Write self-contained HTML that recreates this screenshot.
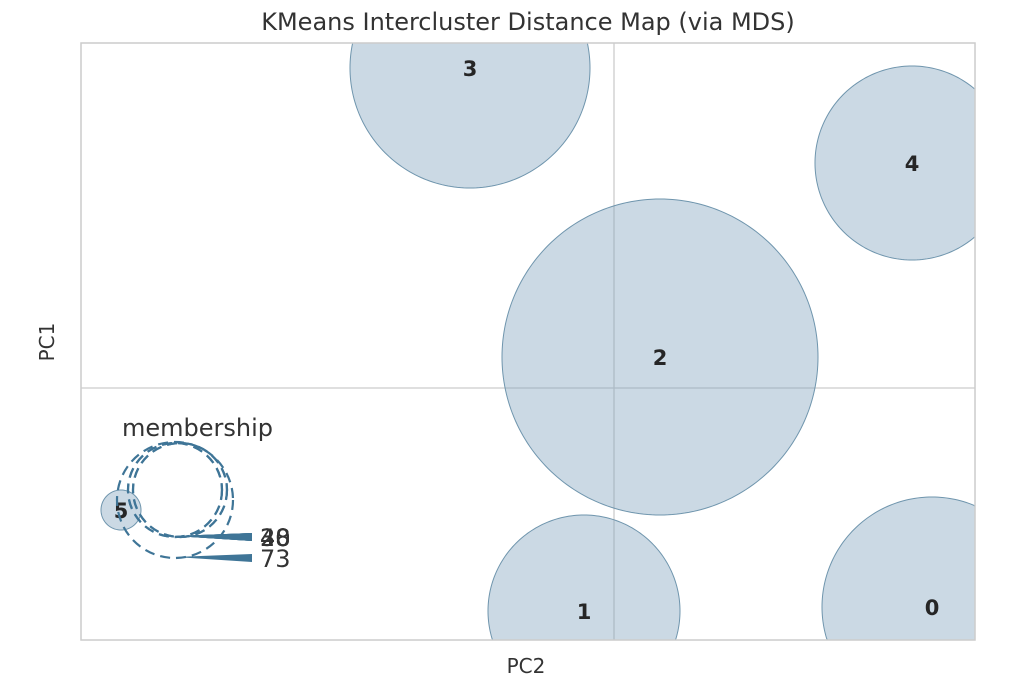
<!DOCTYPE html>
<html><head><meta charset="utf-8"><style>
html,body{margin:0;padding:0;background:#fff;overflow:hidden;width:1030px;height:678px}
svg{display:block}
</style></head><body>
<svg id="c" width="1030" height="678" xmlns="http://www.w3.org/2000/svg" font-family="DejaVu Sans, Liberation Sans, sans-serif"></svg>
<script>
const clusterIds=["0","1","2","3","4","5"];
const cx=[3.18,-0.30,0.46,-1.44,2.98,-4.93];
const cy=[-2.19,-2.23,0.31,3.20,2.25,-1.22];
const cr=[1.10,0.96,1.58,1.20,0.97,0.20];
const legendLabels=["28","30","40","48","73"];
const legendRadii=[47,47,47,47,58];
const legendDx=[0,5,0,5,0];
const NS="http://www.w3.org/2000/svg";
const svg=document.getElementById('c');
const L=81,R=975,T=43,B=640;
const X=v=>614+v*100, Y=v=>388-v*100, S=v=>v*100;
function el(t,a,p){const e=document.createElementNS(NS,t);for(const k in a)e.setAttribute(k,a[k]);(p||svg).appendChild(e);return e;}
const clamp=(v,a,b)=>Math.max(a,Math.min(b,v));
function clippedCircle(x0,y0,r){
 let d='';const n=240;
 for(let k=0;k<n;k++){const a=2*Math.PI*k/n;
  const px=clamp(x0+r*Math.cos(a),L,R), py=clamp(y0+r*Math.sin(a),T,B);
  d+=(k?'L':'M')+px.toFixed(2)+','+py.toFixed(2);}
 return d+'Z';
}
const bg=el('rect',{x:L,y:T,width:R-L,height:B-T,fill:'#fff'});

const g=el('g',{});
const vl=el('line',{x1:X(0),x2:X(0),y1:T,y2:B,stroke:'#ccc','stroke-width':1.3},g);

const hl=el('line',{x1:L,x2:R,y1:Y(0),y2:Y(0),stroke:'#ccc','stroke-width':1.3},g);

for(let i=0;i<clusterIds.length;i++){
 const c=el('path',{d:clippedCircle(X(cx[i]),Y(cy[i]),S(cr[i])),fill:'rgba(130,165,190,0.42)',stroke:'#6f95ad','stroke-width':1},g);
 
 const t=el('text',{x:X(cx[i]),y:Y(cy[i])+8,'text-anchor':'middle','font-size':21,'font-weight':'bold',fill:'#262626'},g);
 t.textContent=clusterIds[i];
}
const lg=el('g',{});
const lt=el('text',{x:122,y:436,'font-size':24,fill:'#333'},lg);lt.textContent='membership';

const lcx=175,lbottom0=537;
legendRadii.forEach((r,i)=>{
 const bottom=r>50?558:lbottom0;
 const c=el('circle',{cx:lcx+legendDx[i],cy:bottom-r,r:r,fill:'none',stroke:'#3f7597','stroke-width':2.2,'stroke-dasharray':'10,6'},lg);
 
 const ln=el('polygon',{points:`${lcx},${bottom-1} 252,${bottom-4} 252,${bottom+4}`,fill:'#3f7597'},lg);
 
 const t=el('text',{x:260,y:bottom+9,'font-size':24,fill:'#333'},lg);t.textContent=legendLabels[i];
 
});
const fr=el('rect',{x:L,y:T,width:R-L,height:B-T,fill:'none',stroke:'#ccc','stroke-width':1.5});

const ti=el('text',{x:528,y:30,'text-anchor':'middle','font-size':24,fill:'#333'});ti.textContent='KMeans Intercluster Distance Map (via MDS)';

const xt=el('text',{x:526,y:673,'text-anchor':'middle','font-size':20,fill:'#333'});xt.textContent='PC2';

const yt=el('text',{x:0,y:0,transform:'translate(54,342) rotate(-90)','text-anchor':'middle','font-size':20,fill:'#333'});yt.textContent='PC1';

</script>
</body></html>
